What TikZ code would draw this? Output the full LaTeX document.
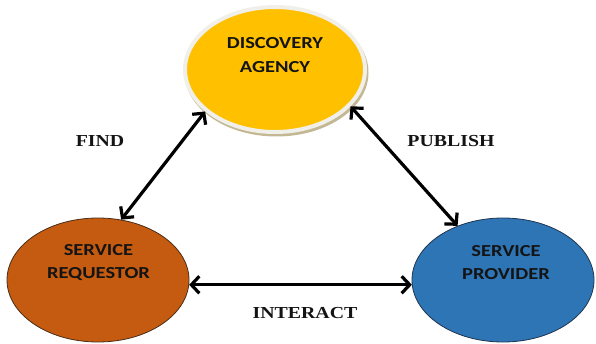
\documentclass[tikz,border=0pt]{standalone}
\usepackage{fontspec}
\setmainfont[FakeStretch=1.18]{Liberation Serif}
\newfontfamily\rolefont[FakeStretch=1.22]{Carlito}
\usetikzlibrary{arrows.meta,shapes.geometric}

\definecolor{agencyfill}{HTML}{FFC000}
\definecolor{agencyrim}{HTML}{F1EFEA}
\definecolor{agencyshadow}{HTML}{C4B894}
\definecolor{requestorfill}{HTML}{C55A11}
\definecolor{requestorrim}{HTML}{4A2E18}
\definecolor{providerfill}{HTML}{2E75B6}
\definecolor{providerrim}{HTML}{1E3550}
\definecolor{inktext}{HTML}{141414}

\tikzset{
  role/.style={ellipse, inner sep=0pt, minimum width=182pt, minimum height=124pt},
  roletext/.style={font=\rolefont\bfseries\fontsize{16.8}{23.5}\selectfont,
    align=center, text=inktext, inner sep=0pt},
  actiontext/.style={font=\bfseries\fontsize{16.8}{20}\selectfont,
    text=inktext, inner sep=0pt},
  link/.style={line width=3.2pt, line cap=round,
    {Straight Barb[length=8pt,width=17pt]}-{Straight Barb[length=8pt,width=17pt]}}
}

\begin{document}
\begin{tikzpicture}[x=1pt,y=1pt]
\useasboundingbox (0,0) rectangle (596,343);

% discovery agency with a light rim and a soft drop shadow
\fill[agencyshadow] (276.5,270.5) ellipse [x radius=92pt, y radius=64pt];
\node[ellipse, inner sep=0pt, minimum width=180pt, minimum height=125pt,
      fill=agencyfill, draw=agencyrim, line width=4pt] (da) at (275,273.5) {};
\node[roletext] (datext) at (275,288) {DISCOVERY\\AGENCY};

% service requestor and service provider
\node[role, fill=requestorfill, draw=requestorrim, line width=0.8pt] (sr) at (98,63) {};
\node[roletext] (srtext) at (98.5,80.5) {SERVICE\\REQUESTOR};

\node[role, fill=providerfill, draw=providerrim, line width=0.8pt] (sp) at (503,63) {};
\node[roletext] (sptext) at (506,80.5) {SERVICE\\PROVIDER};

% interactions between the roles
\draw[link] (sr.69) -- (da.211);
\draw[link] (da.-26) -- (sp.130);
\draw[link] (sr.-3) -- (sp.183);

\node[actiontext] (find) at (100,202) {FIND};
\node[actiontext] (publish) at (451,202) {PUBLISH};
\node[actiontext] (interact) at (305,30) {INTERACT};
\end{tikzpicture}
\end{document}
